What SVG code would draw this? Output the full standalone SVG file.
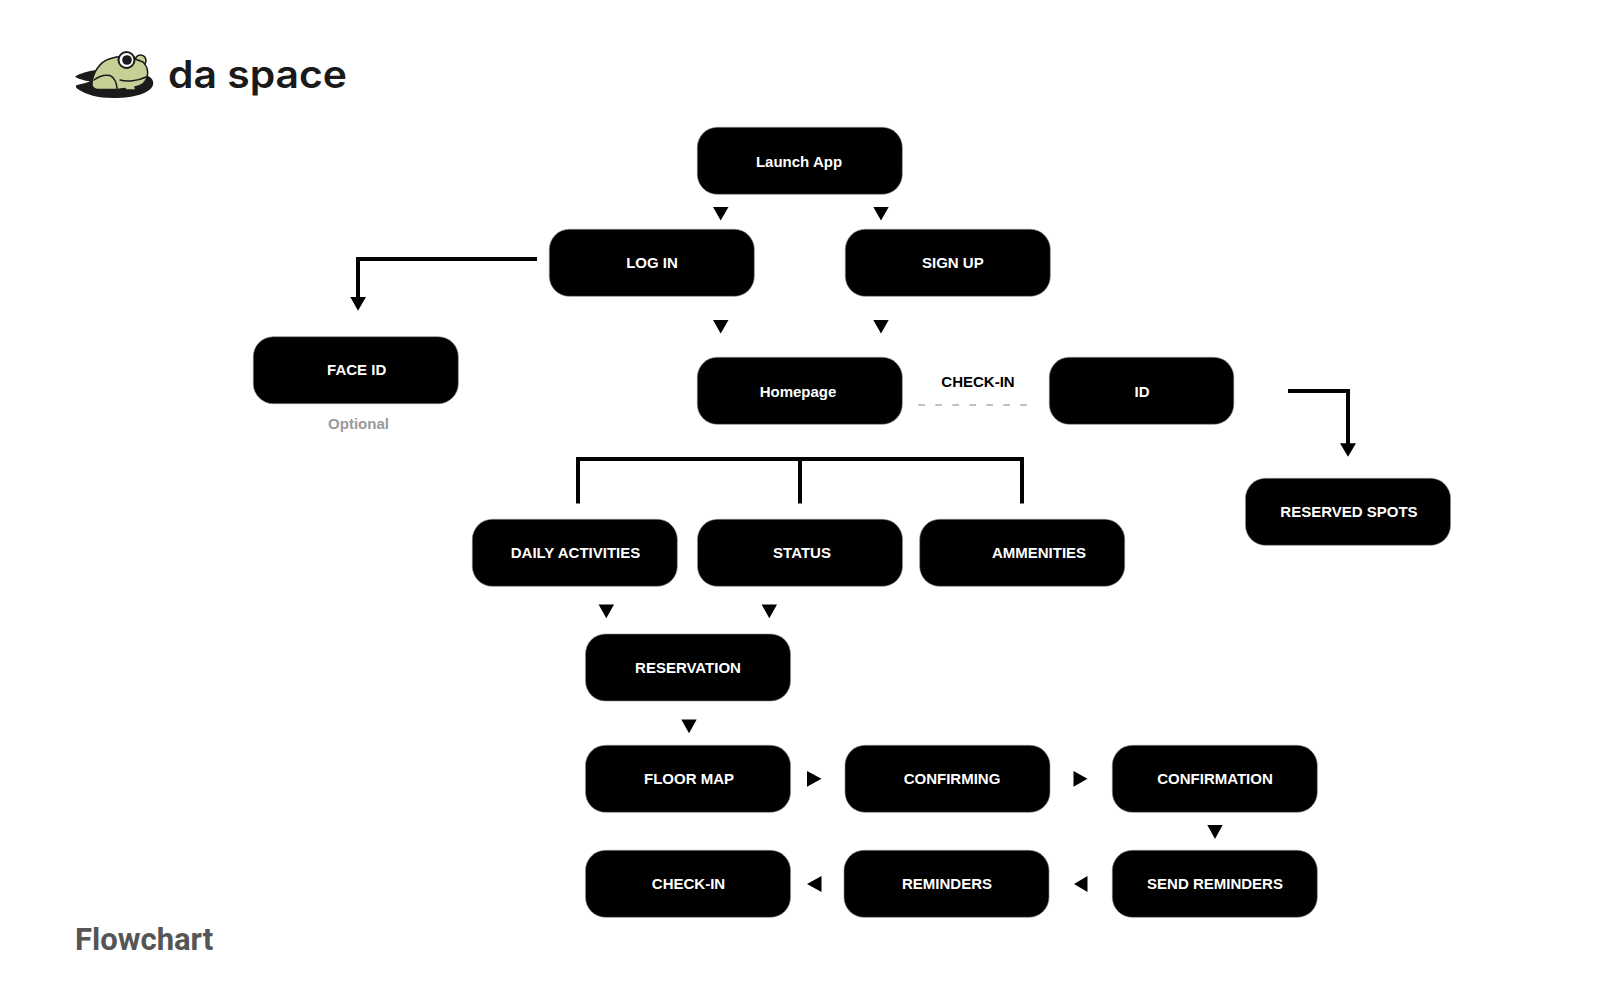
<svg xmlns="http://www.w3.org/2000/svg" width="1600" height="1000" viewBox="0 0 1600 1000">
<style>
.n{fill:#000;stroke:#8a8a8a;stroke-width:.6}
.t{font-family:"Liberation Sans",Arial,sans-serif;font-weight:700;font-size:15px;fill:#fff;text-anchor:middle}
.w{fill:none;stroke:#000;stroke-width:4}
.f{fill:#c6cf95;stroke:#1a1a1a;stroke-width:1.5;stroke-linejoin:round}
.l{fill:none;stroke:#1a1a1a;stroke-width:1.5;stroke-linecap:round}
</style>
<rect width="1600" height="1000" fill="#fff"/>
<g id="logo">
<path d="M75 76.500C80 73.500 88 71 96 70L148 76C152 78 154 81 153 85C151 92 137 98 113 98C98 98 86 95 77 88.500C75.500 87 75.500 85.500 77 85C81 84 86 83 90 81.500C85 80.500 78 79 75 76.500Z" fill="#1a1a1a"/>
<circle class="f" cx="140.500" cy="60.500" r="5.500"/>
<path class="f" d="M92 83C93 72 100 62 109 59C115 57 122 56 130 57L143 62C147 66 148.500 72 147 77C146 82 142 86 135 87L136 90H126L125 88.500L117 89.500L97 89.500C93 89 91.500 86 92 83Z"/>
<path class="l" d="M94 80C99 76 105 74.500 110 75.500C114 77 117 83 117 88.500M120 80C127 82 138 81 146 77"/>
<circle cx="126.500" cy="60" r="8" fill="#fff" stroke="#1a1a1a" stroke-width="2"/>
<circle cx="127" cy="60" r="4.800" fill="#1a1a1a"/>
<text x="168" y="88.300" font-family="Inter,'Liberation Sans',sans-serif" font-weight="600" font-size="38" fill="#1a1a1a" textLength="179" lengthAdjust="spacingAndGlyphs">da space</text>
</g>
<g id="connectors">
<path class="w" d="M537 259H358V298M1288 391H1348V444M578 503.500V459H1022V503.500M800 459V503.500"/>
<path d="M350.300 297H366L358 310.700ZM1340 443.300H1356L1348 456.700Z"/>
<path d="M713 207H728.500L720.700 220.500ZM873.300 207H888.700L881 220.500ZM713 320H728.500L720.700 333.500ZM873.300 320H888.700L881 333.500ZM598.600 604.500H614L606.300 618.300ZM761.600 604.500H777L769.300 618.300ZM681.300 719.500H696.700L689 733.300ZM1207.300 825H1222.700L1215 839Z"/>
<path d="M807 771V786.700L821.500 778.800ZM1073.500 771V786.700L1087.500 778.800ZM821.500 876V892L807 884ZM1087.500 876V892L1074 884Z"/>
<path d="M918.300 405H1027" fill="none" stroke="#aaa" stroke-width="1.500" stroke-dasharray="6.700 10.300"/>
</g>
<g id="launch"><rect class="n" x="697.300" y="127.300" width="205" height="67" rx="20"/><text class="t" x="799" y="167">Launch App</text></g>
<g id="login"><rect class="n" x="549.300" y="229.300" width="205" height="67" rx="20"/><text class="t" x="652" y="268">LOG IN</text></g>
<g id="signup"><rect class="n" x="845.300" y="229.300" width="205" height="67" rx="20"/><text class="t" x="952.800" y="268">SIGN UP</text></g>
<g id="faceid"><rect class="n" x="253.300" y="336.700" width="205" height="67" rx="20"/><text class="t" x="356.700" y="375">FACE ID</text></g>
<g id="optional"><text x="358.500" y="429.300" text-anchor="middle" style="font-family:'Liberation Sans',sans-serif;font-weight:700;font-size:15px;fill:#999">Optional</text></g>
<g id="homepage"><rect class="n" x="697.300" y="357.300" width="205" height="67" rx="20"/><text class="t" x="798" y="397">Homepage</text></g>
<g id="checkin-label"><text x="978" y="386.700" text-anchor="middle" style="font-family:'Liberation Sans',sans-serif;font-weight:700;font-size:15px;fill:#000">CHECK-IN</text></g>
<g id="id"><rect class="n" x="1049.300" y="357.300" width="184.500" height="67" rx="20"/><text class="t" x="1142" y="397">ID</text></g>
<g id="reserved"><rect class="n" x="1245.500" y="478.300" width="205" height="67" rx="20"/><text class="t" x="1349" y="517">RESERVED SPOTS</text></g>
<g id="daily"><rect class="n" x="472.300" y="519.300" width="205" height="67" rx="20"/><text class="t" x="575.500" y="558">DAILY ACTIVITIES</text></g>
<g id="status"><rect class="n" x="697.500" y="519.300" width="205" height="67" rx="20"/><text class="t" x="802" y="558">STATUS</text></g>
<g id="ammenities"><rect class="n" x="919.700" y="519.300" width="205" height="67" rx="20"/><text class="t" x="1039" y="558">AMMENITIES</text></g>
<g id="reservation"><rect class="n" x="585.500" y="634" width="205" height="67" rx="20"/><text class="t" x="688" y="672.500">RESERVATION</text></g>
<g id="floormap"><rect class="n" x="585.500" y="745.300" width="205" height="67" rx="20"/><text class="t" x="689" y="784">FLOOR MAP</text></g>
<g id="confirming"><rect class="n" x="845" y="745.300" width="205" height="67" rx="20"/><text class="t" x="952" y="784">CONFIRMING</text></g>
<g id="confirmation"><rect class="n" x="1112.300" y="745.300" width="205" height="67" rx="20"/><text class="t" x="1215" y="784">CONFIRMATION</text></g>
<g id="checkin"><rect class="n" x="585.500" y="850.300" width="205" height="67" rx="20"/><text class="t" x="688.500" y="889">CHECK-IN</text></g>
<g id="reminders"><rect class="n" x="844" y="850.300" width="205" height="67" rx="20"/><text class="t" x="947" y="889">REMINDERS</text></g>
<g id="send"><rect class="n" x="1112.300" y="850.300" width="205" height="67" rx="20"/><text class="t" x="1215" y="889">SEND REMINDERS</text></g>
<g id="title"><text x="75" y="950" style="font-family:Roboto,sans-serif;font-weight:700;font-size:31px;fill:#555">Flowchart</text></g>
</svg>
